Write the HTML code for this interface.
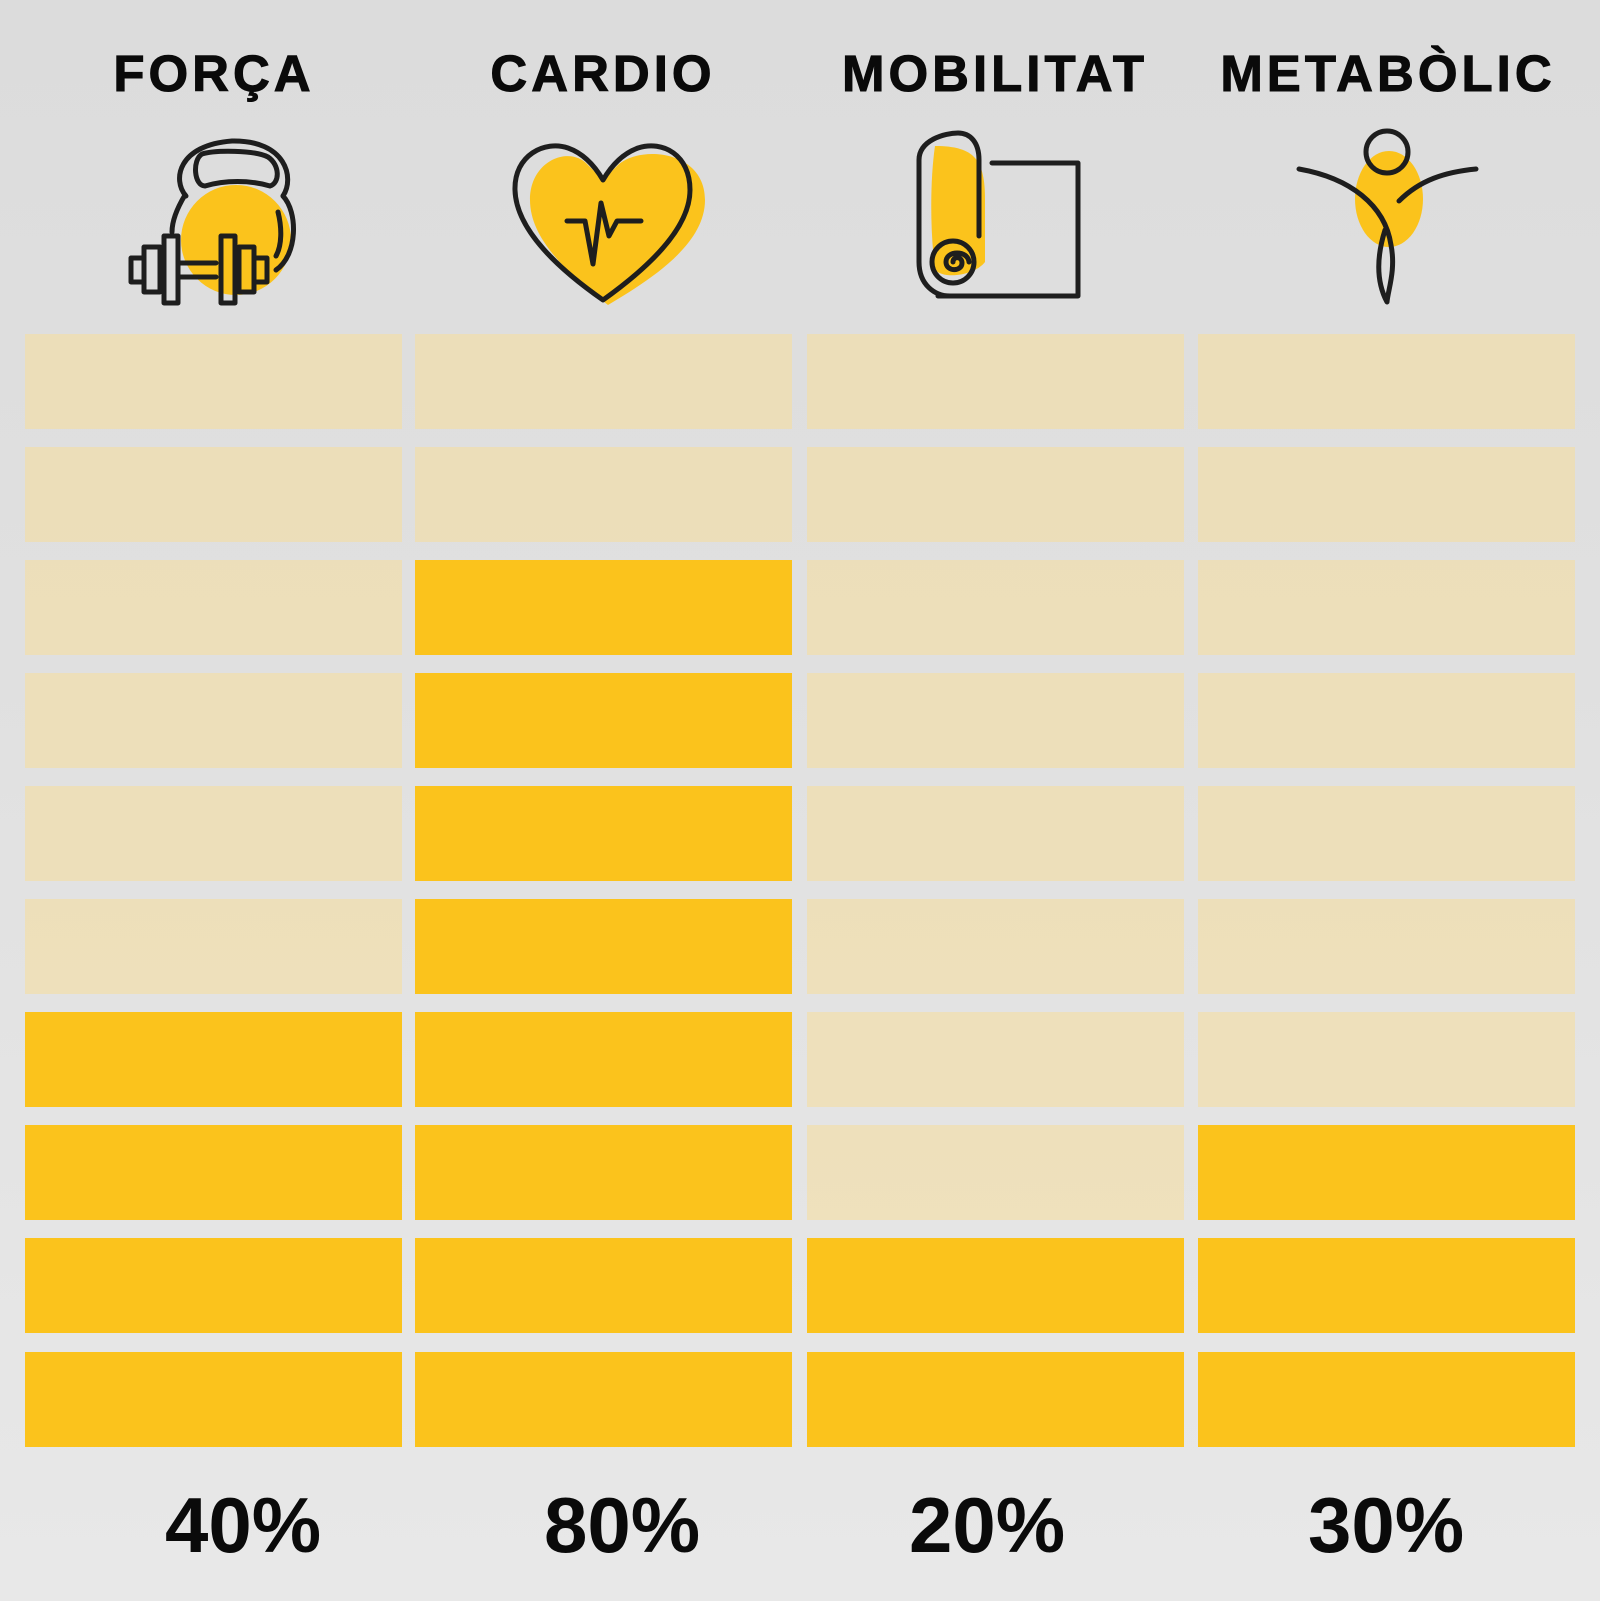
<!DOCTYPE html>
<html><head><meta charset="utf-8"><style>
html,body{margin:0;padding:0}
body{width:1600px;height:1601px;position:relative;overflow:hidden;background:linear-gradient(180deg,#dcdcdc 0%,#e0e0e0 40%,#e4e4e4 70%,#e8e8e8 100%);font-family:"Liberation Sans",sans-serif}
.h{position:absolute;top:44px;font-weight:bold;font-size:51px;letter-spacing:4px;color:#0a0a0a;-webkit-text-stroke:1px #0a0a0a;text-align:center;width:392px;line-height:60px}
.p{position:absolute;top:1480px;font-family:"Liberation Sans Narrow","Liberation Sans",sans-serif;font-weight:bold;font-size:78px;color:#0a0a0a;text-align:center;width:300px;line-height:90px}
.c{position:absolute;width:377px;height:95px;background:rgba(245,222,160,0.6)}
.y{background:#fbc31c}
</style></head><body>
<div class="h" style="left:18px">FORÇA</div>
<div class="h" style="left:407px">CARDIO</div>
<div class="h" style="left:799px">MOBILITAT</div>
<div class="h" style="left:1192px">METABÒLIC</div>

<svg style="position:absolute;left:0;top:0" width="1600" height="330" viewBox="0 0 1600 330">
<g fill="none" stroke="#1e1e1e" stroke-width="5" stroke-linecap="round" stroke-linejoin="round">
<circle cx="236" cy="240" r="55" fill="#fbc31c" stroke="none"/>
<path d="M186 196 C172 180 178 145 232 141 C286 140 295 178 283 196"/>
<path d="M202 154 C215 150 255 150 268 157 C280 165 280 183 270 186 C250 180 225 180 205 186 C194 186 192 160 202 154Z"/>
<path d="M185 195 C176 210 172 222 172 232"/>
<path d="M283 196 C298 212 298 255 276 270"/>
<path d="M278 212 C282 228 282 245 276 256"/>
<rect x="164" y="236" width="14" height="67"/>
<rect x="221" y="236" width="14" height="67"/>
<rect x="144" y="247" width="16" height="45"/>
<rect x="239" y="247" width="15" height="45"/>
<rect x="131" y="258" width="13" height="24"/>
<rect x="254" y="258" width="13" height="24"/>
<path d="M180 263 H216 M180 277 H216"/>
<path d="M608 305 C570 275 530 240 530 200 C530 160 570 145 588 165 L603 180 L618 165 C640 145 705 150 705 200 C705 245 650 280 608 305Z" fill="#fbc31c" stroke="none"/>
<path d="M603 300 C560 270 516 230 515 190 C514 155 545 140 568 148 C585 154 596 168 603 180 C610 168 621 154 638 148 C663 140 690 155 690 190 C690 230 645 270 603 300Z"/>
<path d="M567 221 H585 L593 264 L601 203 L609 236 L617 221 H641"/>
<path d="M935 146 C975 146 985 160 985 200 L985 262 C975 275 945 280 935 270 C930 230 930 180 935 146Z" fill="#fbc31c" stroke="none"/>
<path d="M938 296 H1078 V163 H992"/>
<path d="M979 236 V160 C979 142 970 133 958 133 C945 133 919 140 919 160 V262 C919 285 935 296 950 296"/>
<circle cx="953" cy="262" r="21"/>
<path d="M953 262 C953 256 962 256 962 263 C962 272 946 272 946 262 C946 250 968 250 969 262"/>
<ellipse cx="1389" cy="199" rx="34" ry="48" fill="#fbc31c" stroke="none"/>
<circle cx="1387" cy="152" r="21"/>
<path d="M1299 169 C1350 178 1385 205 1391 245 C1396 270 1388 290 1387 302 C1378 285 1375 262 1385 230"/>
<path d="M1399 201 C1420 180 1445 172 1476 169"/>
</g>
</svg>

<div class="c" style="left:25px;top:334px"></div><div class="c" style="left:415px;top:334px"></div><div class="c" style="left:807px;top:334px"></div><div class="c" style="left:1198px;top:334px"></div>
<div class="c" style="left:25px;top:447px"></div><div class="c" style="left:415px;top:447px"></div><div class="c" style="left:807px;top:447px"></div><div class="c" style="left:1198px;top:447px"></div>
<div class="c" style="left:25px;top:560px"></div><div class="c y" style="left:415px;top:560px"></div><div class="c" style="left:807px;top:560px"></div><div class="c" style="left:1198px;top:560px"></div>
<div class="c" style="left:25px;top:673px"></div><div class="c y" style="left:415px;top:673px"></div><div class="c" style="left:807px;top:673px"></div><div class="c" style="left:1198px;top:673px"></div>
<div class="c" style="left:25px;top:786px"></div><div class="c y" style="left:415px;top:786px"></div><div class="c" style="left:807px;top:786px"></div><div class="c" style="left:1198px;top:786px"></div>
<div class="c" style="left:25px;top:899px"></div><div class="c y" style="left:415px;top:899px"></div><div class="c" style="left:807px;top:899px"></div><div class="c" style="left:1198px;top:899px"></div>
<div class="c y" style="left:25px;top:1012px"></div><div class="c y" style="left:415px;top:1012px"></div><div class="c" style="left:807px;top:1012px"></div><div class="c" style="left:1198px;top:1012px"></div>
<div class="c y" style="left:25px;top:1125px"></div><div class="c y" style="left:415px;top:1125px"></div><div class="c" style="left:807px;top:1125px"></div><div class="c y" style="left:1198px;top:1125px"></div>
<div class="c y" style="left:25px;top:1238px"></div><div class="c y" style="left:415px;top:1238px"></div><div class="c y" style="left:807px;top:1238px"></div><div class="c y" style="left:1198px;top:1238px"></div>
<div class="c y" style="left:25px;top:1352px"></div><div class="c y" style="left:415px;top:1352px"></div><div class="c y" style="left:807px;top:1352px"></div><div class="c y" style="left:1198px;top:1352px"></div>

<div class="p" style="left:93px">40%</div>
<div class="p" style="left:472px">80%</div>
<div class="p" style="left:837px">20%</div>
<div class="p" style="left:1236px">30%</div>
</body></html>
